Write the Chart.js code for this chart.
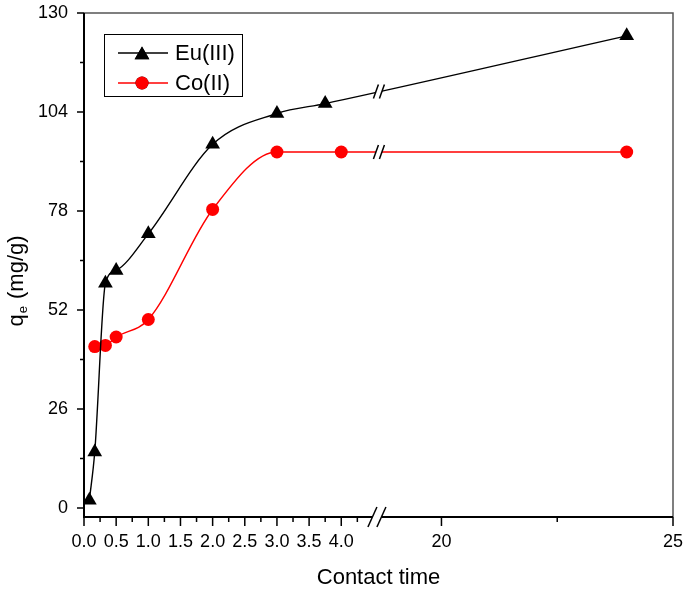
<!DOCTYPE html>
<html>
<head>
<meta charset="utf-8">
<script src="https://cdn.jsdelivr.net/npm/chart.js@4.4.0/dist/chart.umd.min.js"></script>
<style>
  html, body { margin: 0; padding: 0; background: #fff; }
</style>
</head>
<body>
<canvas id="chart" width="685" height="594"></canvas>
<script>
// values (contact time, qe in mg/g)
const timeEu = [0.083, 0.167, 0.333, 0.5, 1, 2, 3, 3.75, 24];
const qeEu = [2, 14.7, 59, 62.4, 72, 95.5, 103.6, 106.2, 124];
const timeCo = [0.167, 0.333, 0.5, 1, 2, 3, 4, 24];
const qeCo = [42.4, 42.7, 44.9, 49.5, 78.4, 93.5, 93.5, 93.5];

const xMajorTicks = [0, 0.5, 1, 1.5, 2, 2.5, 3, 3.5, 4, 20, 25];
const xTickLabels = ['0.0', '0.5', '1.0', '1.5', '2.0', '2.5', '3.0', '3.5', '4.0', '20', '25'];
const xMinorTicks = [0.25, 0.75, 1.25, 1.75, 2.25, 2.75, 3.25, 3.75, 4.25, 22.5];
const yMajorTicks = [0, 26, 52, 78, 104, 130];
const yMinorTicks = [13, 39, 65, 91, 117];

// axis break: left part 0..4.55, right part 18.6..25 drawn at a smaller scale
const BREAK_FROM = 4.55;
const BREAK_TO = 18.6;
const RIGHT_RATIO = 0.72;

const FONT = '"Liberation Sans", Arial, sans-serif';

function toAxis(t) {
    if (t <= BREAK_FROM) return t;
    if (t < BREAK_TO) return BREAK_FROM;
    return BREAK_FROM + (t - BREAK_TO) * RIGHT_RATIO;
}
function fromAxis(u) {
    if (u <= BREAK_FROM) return u;
    return BREAK_TO + (u - BREAK_FROM) / RIGHT_RATIO;
}

// linear scale with a gap in the middle
class BrokenAxis extends Chart.LinearScale {
    getPixelForValue(value) {
        return this.left + toAxis(value) / toAxis(this.max) * this.width;
    }
    getValueForPixel(pixel) {
        return fromAxis((pixel - this.left) / this.width * toAxis(this.max));
    }
}
BrokenAxis.id = 'brokenAxis';
BrokenAxis.defaults = Chart.LinearScale.defaults;
Chart.register(BrokenAxis);

function pts(xs, ys) {
    return xs.map((x, i) => ({ x: x, y: ys[i] }));
}

// no extra room for overhanging tick labels
function noPad(s) {
    s.paddingTop = 0;
    s.paddingBottom = 0;
    s.paddingLeft = 0;
    s.paddingRight = 0;
}

// y of a drawn line at pixel px (between its points)
function lineYAt(meta, px) {
    const els = meta.data;
    for (let i = 0; i < els.length - 1; i++) {
        const a = els[i], b = els[i + 1];
        if (px >= a.x && px <= b.x) {
            return a.y + (b.y - a.y) * (px - a.x) / (b.x - a.x);
        }
    }
    return null;
}

function slashes(ctx, cx, cy, h, lean, gap) {
    ctx.save();
    ctx.fillStyle = '#fff';
    ctx.fillRect(cx - gap / 2, cy - 3, gap, 6);
    ctx.strokeStyle = '#000';
    ctx.lineWidth = 1.5;
    [-gap / 2, gap / 2].forEach(off => {
        ctx.beginPath();
        ctx.moveTo(cx + off - lean / 2, cy + h / 2);
        ctx.lineTo(cx + off + lean / 2, cy - h / 2);
        ctx.stroke();
    });
    ctx.restore();
}

const decorPlugin = {
    id: 'decor',
    afterDraw(chart) {
        const ctx = chart.ctx;
        const a = chart.chartArea;
        const xs = chart.scales.x, ys = chart.scales.y;

        ctx.save();
        // frame
        ctx.strokeStyle = '#555';
        ctx.lineWidth = 1.5;
        ctx.beginPath();
        ctx.moveTo(a.left, a.top);
        ctx.lineTo(a.right, a.top);
        ctx.lineTo(a.right, a.bottom);
        ctx.stroke();
        ctx.strokeStyle = '#000';
        ctx.lineWidth = 2;
        ctx.beginPath();
        ctx.moveTo(a.left, a.top);
        ctx.lineTo(a.left, a.bottom);
        ctx.lineTo(a.right, a.bottom);
        ctx.stroke();

        // tick marks
        ctx.lineWidth = 1.5;
        ctx.beginPath();
        yMajorTicks.forEach(v => { const y = ys.getPixelForValue(v); ctx.moveTo(a.left, y); ctx.lineTo(a.left - 7, y); });
        yMinorTicks.forEach(v => { const y = ys.getPixelForValue(v); ctx.moveTo(a.left, y); ctx.lineTo(a.left - 4, y); });
        xMajorTicks.forEach(v => { const x = xs.getPixelForValue(v); ctx.moveTo(x, a.bottom); ctx.lineTo(x, a.bottom + 9); });
        xMinorTicks.forEach(v => { const x = xs.getPixelForValue(v); ctx.moveTo(x, a.bottom); ctx.lineTo(x, a.bottom + 5); });
        ctx.stroke();

        // breaks on the axis and on both lines
        const bx = xs.left + (BREAK_FROM + 0.02) / toAxis(xs.max) * xs.width;
        slashes(ctx, bx - 1, a.bottom, 20, 9, 9);
        chart.data.datasets.forEach((ds, i) => {
            const y = lineYAt(chart.getDatasetMeta(i), bx + 1);
            if (y !== null) slashes(ctx, bx + 1, y, 14, 5, 6);
        });

        // legend
        ctx.strokeStyle = '#000';
        ctx.lineWidth = 1;
        ctx.strokeRect(104.5, 34.5, 138, 62);
        ctx.font = '22px ' + FONT;
        ctx.textBaseline = 'middle';
        ctx.textAlign = 'left';
        const rows = [53, 83];
        chart.data.datasets.forEach((ds, i) => {
            const y = rows[i];
            ctx.strokeStyle = ds.borderColor;
            ctx.lineWidth = ds.borderWidth;
            ctx.beginPath();
            ctx.moveTo(118, y);
            ctx.lineTo(168, y);
            ctx.stroke();
            Chart.helpers.drawPoint(ctx, {
                pointStyle: ds.pointStyle, radius: ds.pointRadius, rotation: 0, borderWidth: 0
            }, 142, ds.pointStyle === 'triangle' ? y + 2 : y);
            ctx.fillStyle = ds.pointBackgroundColor;
            ctx.fill();
            ctx.fillStyle = '#000';
            ctx.fillText(ds.label, 175, y + 1);
        });

        // axis titles
        ctx.fillStyle = '#000';
        ctx.font = '22px ' + FONT;
        ctx.textAlign = 'center';
        ctx.textBaseline = 'middle';
        ctx.fillText('Contact time', (a.left + a.right) / 2, 578);

        ctx.translate(15, 281);
        ctx.rotate(-Math.PI / 2);
        const part1 = 'q', part2 = 'e', part3 = ' (mg/g)';
        ctx.font = '22px ' + FONT;
        const w1 = ctx.measureText(part1).width;
        const w3 = ctx.measureText(part3).width;
        ctx.font = '13px ' + FONT;
        const w2 = ctx.measureText(part2).width + 2;
        const total = w1 + w2 + w3;
        let x0 = -total / 2;
        ctx.textAlign = 'left';
        ctx.textBaseline = 'alphabetic';
        ctx.font = '22px ' + FONT;
        ctx.fillText(part1, x0, 8);
        ctx.font = '13px ' + FONT;
        ctx.fillText(part2, x0 + w1 + 1, 12);
        ctx.font = '22px ' + FONT;
        ctx.fillText(part3, x0 + w1 + w2, 8);
        ctx.restore();
    }
};

new Chart(document.getElementById('chart'), {
    type: 'line',
    data: {
        datasets: [{
            label: 'Eu(III)',
            data: pts(timeEu, qeEu),
            borderColor: '#000',
            backgroundColor: '#000',
            pointBackgroundColor: '#000',
            pointBorderColor: '#000',
            borderWidth: 1.4,
            pointStyle: 'triangle',
            pointRadius: 8.5,
            pointBorderWidth: 0,
            cubicInterpolationMode: 'monotone',
            fill: false
        }, {
            label: 'Co(II)',
            data: pts(timeCo, qeCo),
            borderColor: '#ff0000',
            backgroundColor: '#ff0000',
            pointBackgroundColor: '#ff0000',
            pointBorderColor: '#ff0000',
            borderWidth: 1.4,
            pointStyle: 'circle',
            pointRadius: 6.5,
            pointBorderWidth: 0,
            cubicInterpolationMode: 'monotone',
            fill: false
        }]
    },
    options: {
        responsive: false,
        animation: false,
        layout: { padding: { left: 0, right: 12, top: 13, bottom: 0 } },
        plugins: {
            legend: { display: false },
            tooltip: { enabled: false }
        },
        scales: {
            x: {
                type: 'brokenAxis',
                min: 0,
                max: 25,
                grid: { display: false, drawTicks: false },
                border: { display: false },
                afterBuildTicks: s => { s.ticks = xMajorTicks.map(v => ({ value: v })); },
                afterFit: s => { s.height = 77; noPad(s); },
                ticks: {
                    autoSkip: false,
                    maxRotation: 0,
                    padding: 14,
                    color: '#000',
                    font: { family: FONT, size: 18 },
                    callback: (v, i) => xTickLabels[i]
                }
            },
            y: {
                min: -2.37,
                max: 130,
                grid: { display: false, drawTicks: false },
                border: { display: false },
                afterBuildTicks: s => { s.ticks = yMajorTicks.map(v => ({ value: v })); },
                afterFit: s => { s.width = 84; noPad(s); },
                ticks: {
                    padding: 16,
                    color: '#000',
                    font: { family: FONT, size: 18 },
                    callback: v => String(v)
                }
            }
        }
    },
    plugins: [decorPlugin]
});
</script>
</body>
</html>
